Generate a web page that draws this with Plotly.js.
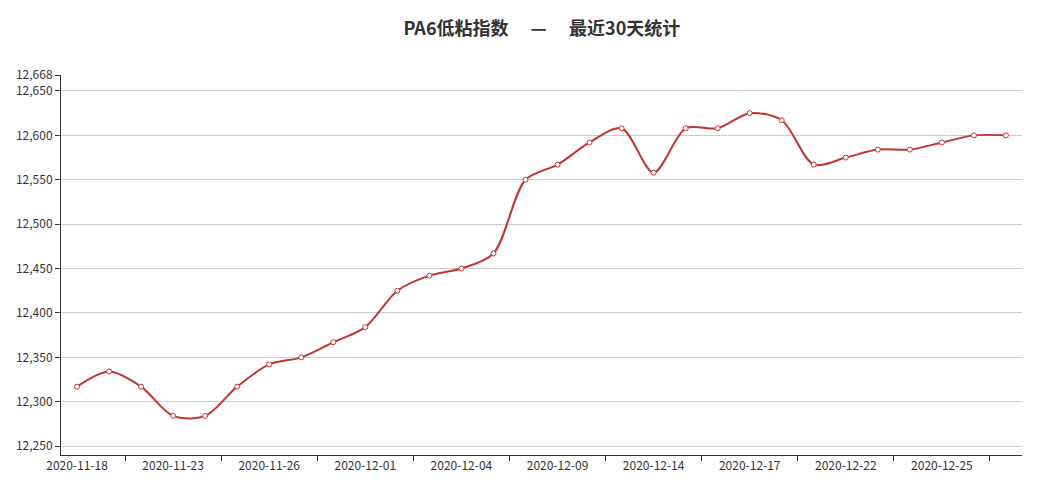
<!DOCTYPE html>
<html>
<head>
<meta charset="utf-8">
<script src="https://cdn.plot.ly/plotly-3.0.1.min.js"></script>
<style>html,body{margin:0;padding:0;background:#fff;}#chart{width:1042px;height:501px;}</style>
</head>
<body>
<div id="chart"></div>
<script>
const dates = ["2020-11-18","2020-11-19","2020-11-20","2020-11-23","2020-11-24","2020-11-25","2020-11-26","2020-11-27","2020-11-30","2020-12-01","2020-12-02","2020-12-03","2020-12-04","2020-12-07","2020-12-08","2020-12-09","2020-12-10","2020-12-11","2020-12-14","2020-12-15","2020-12-16","2020-12-17","2020-12-18","2020-12-21","2020-12-22","2020-12-23","2020-12-24","2020-12-25","2020-12-28","2020-12-29"];
const values = [12317,12334,12317,12284,12284,12317,12342,12350,12367,12384,12425,12442,12450,12467,12550,12567,12592,12608,12558,12608,12608,12625,12617,12567,12575,12584,12584,12592,12600,12600];
const yTicks = [12250,12300,12350,12400,12450,12500,12550,12600,12650,12668];
const yMin = 12240, yMax = 12668;
const labelEvery = 3;

const idx = dates.map((d,i)=>i);
const labelVals = idx.filter(i => i % labelEvery === 0);
const labelText = labelVals.map(i => dates[i]);
const tickBounds = labelVals.map(i => i + 1.5).filter(v => v < dates.length - 0.5);
const fmt = v => v.toLocaleString('en-US');

const trace = {
  x: idx, y: values, type: 'scatter', mode: 'lines+markers',
  line: {color: '#c23531', width: 2, shape: 'spline', smoothing: 0.85},
  marker: {size: 5, color: '#ffffff', line: {color: '#c23531', width: 1}},
  hoverinfo: 'skip', cliponaxis: false
};
const dummy = {x: [0], y: [yMin], xaxis: 'x2', yaxis: 'y', mode: 'markers', marker: {opacity: 0}, hoverinfo: 'skip', showlegend: false};

const font = {family: '"Noto Sans CJK SC", "Microsoft YaHei", sans-serif', size: 12, color: '#333'};
const layout = {
  width: 1042, height: 501,
  margin: {l: 61, r: 20, t: 75, b: 46},
  paper_bgcolor: '#fff', plot_bgcolor: '#fff',
  showlegend: false,
  font: font,
  title: {text: 'PA6低粘指数　 —　 最近30天统计', x: 0.52, xanchor: 'center', y: 0.942, yanchor: 'middle',
    font: {family: '"Noto Sans CJK SC", sans-serif', size: 18, color: '#333', weight: 'bold'}},
  xaxis: {
    range: [-0.5, dates.length - 0.5], tickmode: 'array', tickvals: labelVals, ticktext: labelText,
    ticks: '', showgrid: false, zeroline: false, showline: true, linecolor: '#333', linewidth: 1,
    tickfont: font, fixedrange: true
  },
  xaxis2: {
    overlaying: 'x', side: 'bottom', anchor: 'y',
    range: [-0.5, dates.length - 0.5], tickmode: 'array', tickvals: tickBounds, ticktext: tickBounds.map(()=>''),
    ticks: 'outside', ticklen: 5, tickcolor: '#333', tickwidth: 1, showgrid: false, zeroline: false, showline: false,
    showticklabels: false
  },
  yaxis: {
    range: [yMin, yMax], tickmode: 'array', tickvals: yTicks, ticktext: yTicks.map(fmt),
    ticks: 'outside', ticklen: 5, tickcolor: '#333', showline: true, linecolor: '#333', linewidth: 1,
    showgrid: true, gridcolor: '#ccc', gridwidth: 1, zeroline: false, tickfont: font, fixedrange: true
  }
};
Plotly.newPlot('chart', [trace, dummy], layout, {displayModeBar: false, staticPlot: true});
</script>
</body>
</html>
